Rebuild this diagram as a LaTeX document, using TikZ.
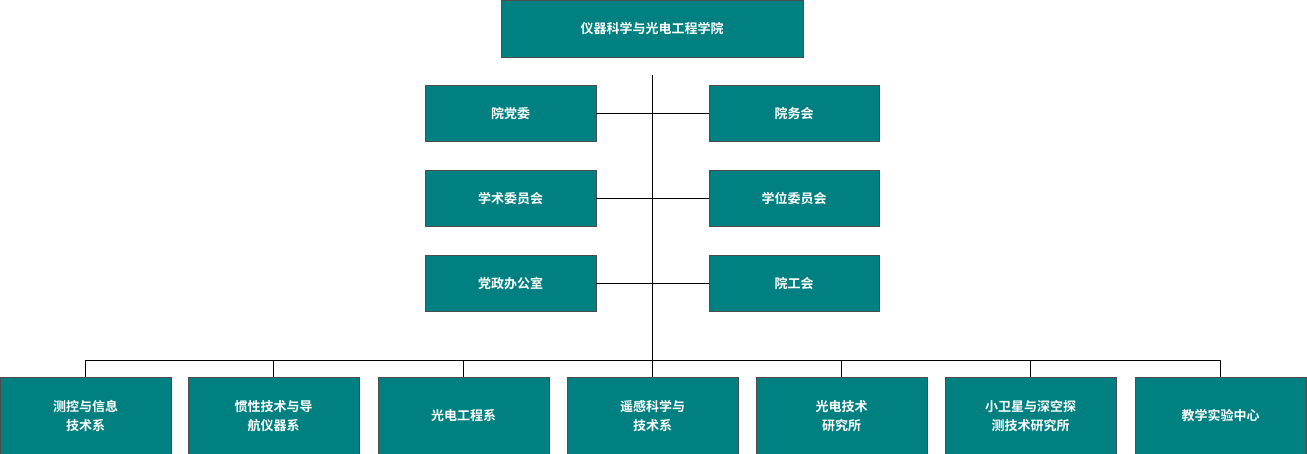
\documentclass[tikz,border=0pt]{standalone}
\usepackage{fontspec}
\newfontfamily\cjk{Noto Sans CJK SC Bold}
\begin{document}
\begin{tikzpicture}[x=1pt,y=-1pt,
  box/.style={draw=black!70,fill={rgb,255:red,0;green,128;blue,128},text=white,font=\cjk\fontsize{13}{19}\selectfont,align=center,inner sep=0pt,anchor=north west},
  ln/.style={draw=black,line width=0.9pt}]
\useasboundingbox (0,0) rectangle (1307,454);
\node[box,minimum width=302pt,minimum height=57pt] (top) at (501,0) {仪器科学与光电工程学院};
\coordinate (vt) at (652,75);
\coordinate (vb) at (652,360);
\foreach \n/\y/\l/\r in {a/85/院党委/院务会, b/170/学术委员会/学位委员会, c/255/党政办公室/院工会}{
  \node[box,minimum width=171pt,minimum height=56pt] (\n L) at (425,\y) {\l};
  \node[box,minimum width=170pt,minimum height=56pt] (\n R) at (709,\y) {\r};
  \draw[ln] (\n L.east) -- (\n R.west);
}
\draw[ln] (vt) -- (vb);
\foreach \i/\x/\t in {1/0/测控与信息\\技术系, 2/188/惯性技术与导\\航仪器系, 3/378/光电工程系, 4/567/遥感科学与\\技术系, 5/756/光电技术\\研究所, 6/945/小卫星与深空探\\测技术研究所, 7/1135/教学实验中心}{
  \node[box,minimum width=171pt,minimum height=76pt] (b\i) at (\x,377.5) {\t};
}
\draw[ln] (b1.north |- vb) -- (b7.north |- vb);
\foreach \i in {1,...,7}{\draw[ln] (b\i.north |- vb) -- (b\i.north);}
\end{tikzpicture}
\end{document}
